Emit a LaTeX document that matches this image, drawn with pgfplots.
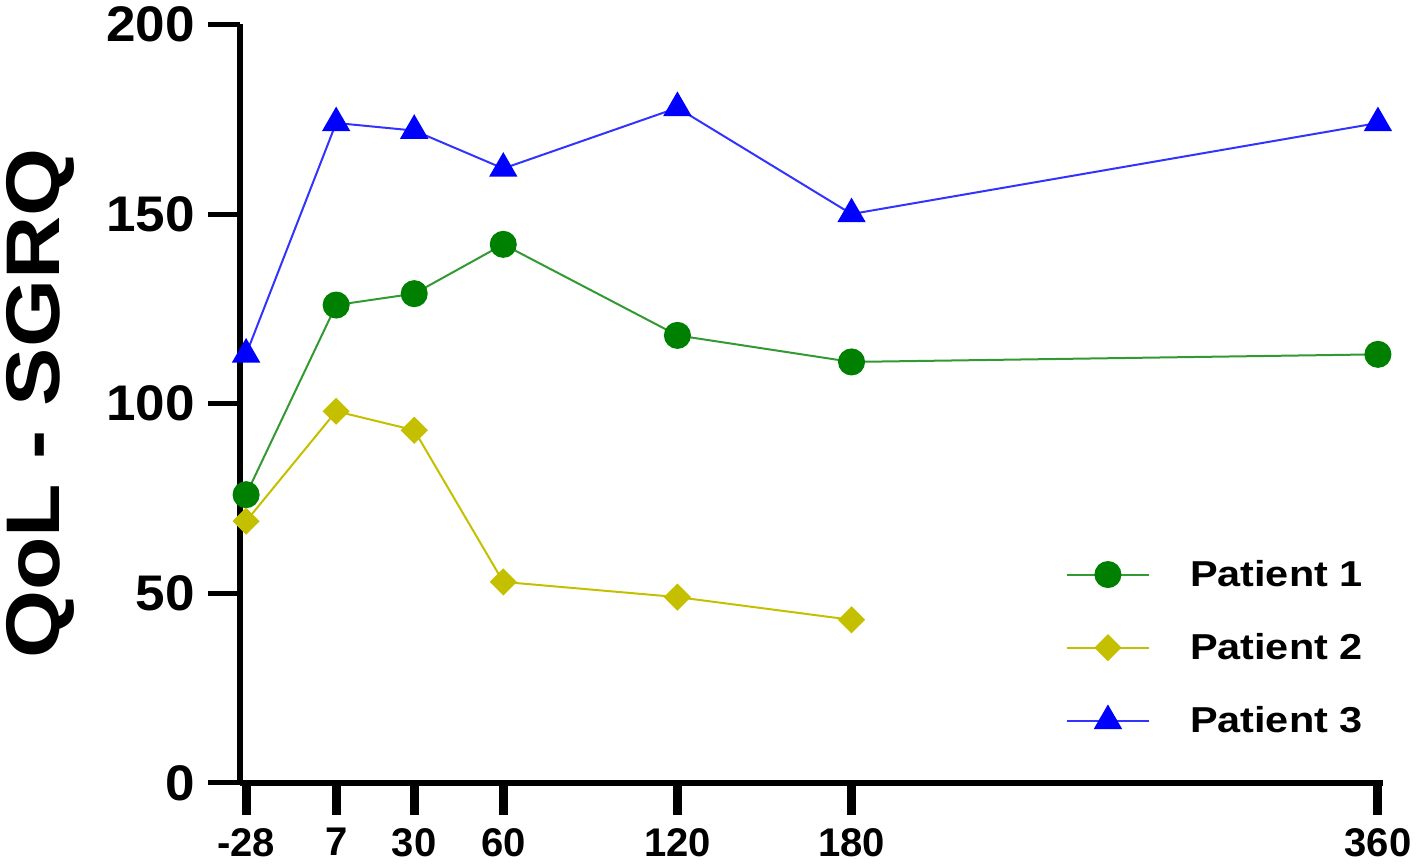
\documentclass[border=0pt]{standalone}
\usepackage{fontspec}
\setmainfont{Liberation Sans}
\newfontfamily\legfont[FakeStretch=1.15]{Liberation Sans}
\newfontfamily\labfont[FakeStretch=1.15]{Liberation Sans}
\newfontfamily\tickfont[FakeStretch=1.06]{Liberation Sans}
\usepackage{pgfplots}
\usepackage{pgfplotstable}
\pgfplotsset{compat=1.18}

\definecolor{pgreen}{RGB}{0,128,0}
\definecolor{pyellow}{RGB}{196,192,0}
\definecolor{pblue}{RGB}{0,0,255}

% pos = horizontal place of the day on the drawn axis (the axis is not linear in days)
\pgfplotstableread{
pos  day  p1   p2   p3
250  -28  76   69   113
340  7    126  98   174
418  30   129  93   172
507  60   142  53   162
681  120  118  49   178
855  180  111  43   150
1381 360  113  nan  174
}\qoldata

\begin{document}
\begin{tikzpicture}
\begin{axis}[
  scale only axis,
  width=571pt, height=379pt,
  xmin=244, xmax=1386,
  ymin=0, ymax=200,
  axis x line*=bottom,
  axis y line*=left,
  axis line style={line width=3pt, -},
  clip=false,
  font=\bfseries,
  xtick={250,340,418,507,681,855,1381},
  xticklabels={-28,7,30,60,120,180,360},
  ytick={0,50,100,150,200},
  yticklabels={0,50,100,150,200},
  tick align=outside,
  major tick length=16pt,
  xtick style={line width=4.5pt, black},
  ytick style={line width=2.5pt, black},
  xticklabel style={font=\bfseries\fontsize{20}{24}\selectfont, yshift=-3pt},
  yticklabel style={font=\tickfont\bfseries\fontsize{25}{30}\selectfont, xshift=-3pt},
  ylabel={QoL - SGRQ},
  ylabel style={font=\labfont\bfseries\fontsize{38}{44}\selectfont},
  ylabel shift=9pt,
  legend style={
    at={(rel axis cs:0.717,0.305)}, anchor=north west,
    draw=none, fill=none,
    font=\legfont\bfseries\fontsize{18}{22}\selectfont,
    row sep=18pt,
    /tikz/every odd column/.append style={column sep=18pt},
  },
  legend cell align=left,
  legend image code/.code={
    \draw[mark repeat=2,mark phase=2,#1]
      plot coordinates {(0pt,0pt) (20.5pt,0pt) (41pt,0pt)};
  },
]
\addplot[color=pgreen!80!white, line width=1pt,
  mark=*, mark size=6.25pt, mark options={fill=pgreen, draw=pgreen}]
  table[x=pos, y=p1] {\qoldata};
\addlegendentry{Patient 1}
\addplot[color=pyellow, line width=1pt,
  mark=square*, mark size=4.3pt, mark options={fill=pyellow, draw=pyellow, rotate=45}]
  table[x=pos, y=p2] {\qoldata};
\addlegendentry{Patient 2}
\addplot[color=pblue!80!white, line width=1pt,
  mark=triangle*, mark size=7.2pt, mark options={fill=pblue, draw=pblue}]
  table[x=pos, y=p3] {\qoldata};
\addlegendentry{Patient 3}
\end{axis}
\end{tikzpicture}
\end{document}
